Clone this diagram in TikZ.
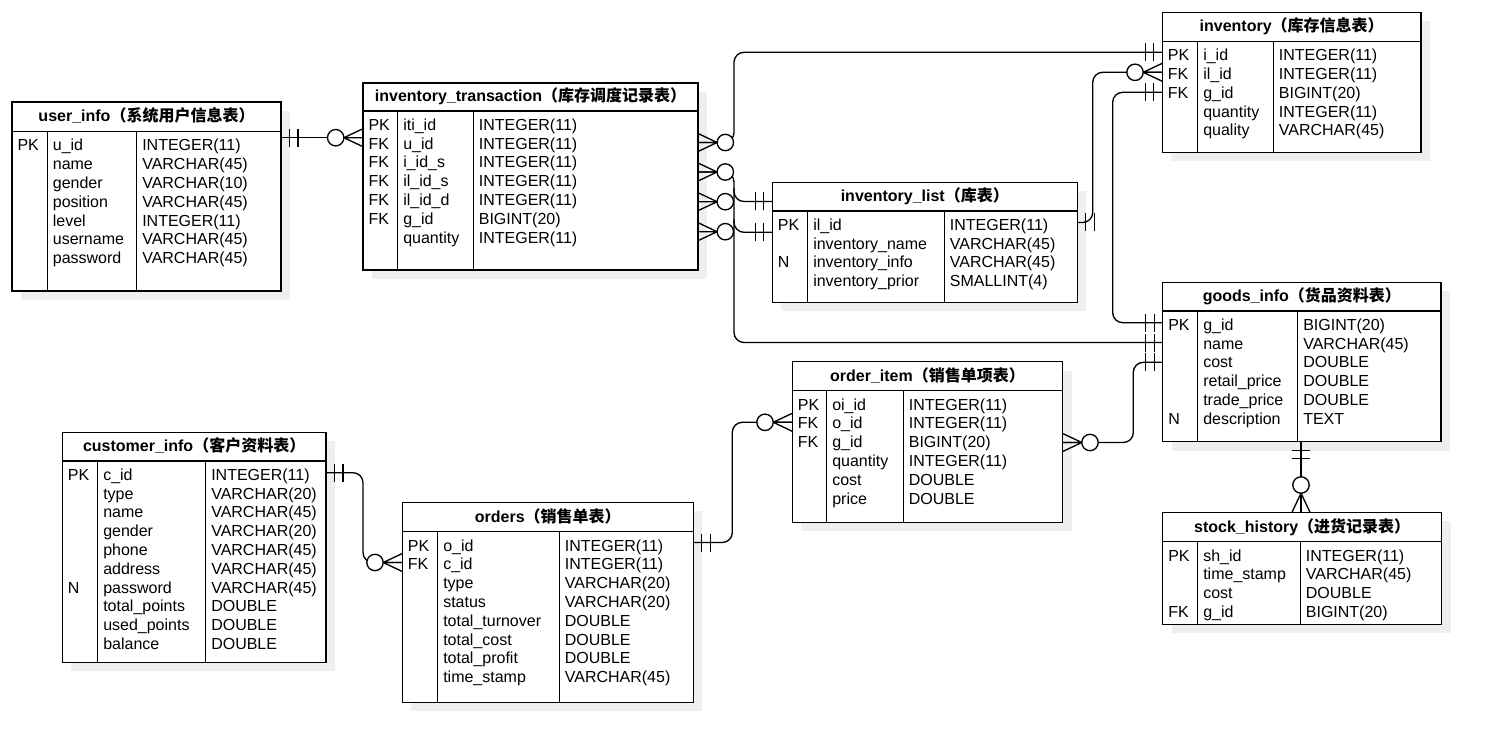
\documentclass[tikz,border=0pt]{standalone}
\usepackage{fontspec}
\setmainfont{Liberation Sans}
\newfontfamily\cjk{Noto Sans CJK SC}
\usetikzlibrary{fit,calc}
\definecolor{shadowc}{HTML}{EFEFEF}
\tikzset{
  tblbox/.style={draw, fill=white, line width=1pt, inner sep=0pt, outer sep=0pt},
  tblline/.style={line width=1pt},
  ttl/.style={font=\fontsize{12pt}{14.1pt}\selectfont\bfseries, inner sep=0pt, anchor=base},
  rowtxt/.style={font=\fontsize{12pt}{14.1pt}\selectfont, inner sep=0pt, anchor=north west, align=left},
  conn/.style={line width=1pt, rounded corners=7.5pt},
  mandone/.pic={\draw[line width=1pt] (8.5,-9) -- (8.5,9) (17,-9) -- (17,9);},
  zeromany/.pic={\draw[line width=1pt] (0,-9) -- (19.1,0) -- (0,9) (0,0) -- (19.1,0);
                 \draw[line width=1pt, fill=white] (27.3,0) circle [radius=8.2];},
}
% table: name, x1, y1, x2, y2, header line y, column 1 x, column 2 x, title
\newcommand\ertable[9]{%
  \fill[shadowc] ({#2+9},{#3+9}) rectangle ({#4+9},{#5+9});
  \node[tblbox, fit={(#2,#3) (#4,#5)}] (#1) {};
  \draw[tblline] (#2,#6) -- (#4,#6) (#7,#6) -- (#7,#5) (#8,#6) -- (#8,#5);
  \node[ttl] (#1-title) at ({(#2+#4)/2},{(#3+#6)/2+5}) {#9};
  \gdef\erhy{#6}\gdef\erxa{#2}\gdef\erxb{#7}\gdef\erxc{#8}\gdef\ername{#1}%
}
% rows of the last table: keys, field names, field types
\newcommand\errows[3]{%
  \node[rowtxt] (\ername-keys)  at ({\erxa+5.3},{\erhy+5.9}) {\strut #1};
  \node[rowtxt] (\ername-names) at ({\erxb+5.3},{\erhy+5.9}) {\strut #2};
  \node[rowtxt] (\ername-types) at ({\erxc+5.3},{\erhy+5.9}) {\strut #3};
}
\begin{document}
\begin{tikzpicture}[x=0.75pt,y=-0.75pt]
\fill[white] (0,0) rectangle (1492,752);
\useasboundingbox (0,0) rectangle (1492,752);

% ---------- tables ----------
\ertable{ui}{12}{102}{281}{291}{131.5}{47.3}{136.7}{user\_info{\cjk（系统用户信息表）}}
\errows{PK}
 {u\_id\\name\\gender\\position\\level\\username\\password}
 {INTEGER(11)\\VARCHAR(45)\\VARCHAR(10)\\VARCHAR(45)\\INTEGER(11)\\VARCHAR(45)\\VARCHAR(45)}

\ertable{it}{363}{83}{698}{270}{111}{397.7}{473.3}{inventory\_transaction{\cjk（库存调度记录表）}}
\errows{PK\\FK\\FK\\FK\\FK\\FK}
 {iti\_id\\u\_id\\i\_id\_s\\il\_id\_s\\il\_id\_d\\g\_id\\quantity}
 {INTEGER(11)\\INTEGER(11)\\INTEGER(11)\\INTEGER(11)\\INTEGER(11)\\BIGINT(20)\\INTEGER(11)}

\ertable{il}{772.3}{182.5}{1077.3}{302.3}{211}{807.7}{944.3}{inventory\_list{\cjk（库表）}}
\errows{PK\\~\\N}
 {il\_id\\inventory\_name\\inventory\_info\\inventory\_prior}
 {INTEGER(11)\\VARCHAR(45)\\VARCHAR(45)\\SMALLINT(4)}

\ertable{inv}{1162.3}{12.3}{1421}{152.3}{41.3}{1197.7}{1273.3}{inventory{\cjk（库存信息表）}}
\errows{PK\\FK\\FK}
 {i\_id\\il\_id\\g\_id\\quantity\\quality}
 {INTEGER(11)\\INTEGER(11)\\BIGINT(20)\\INTEGER(11)\\VARCHAR(45)}

\ertable{gi}{1162.7}{282.3}{1441}{441.7}{311}{1197.7}{1297.7}{goods\_info{\cjk（货品资料表）}}
\errows{PK\\~\\~\\~\\~\\N}
 {g\_id\\name\\cost\\retail\_price\\trade\_price\\description}
 {BIGINT(20)\\VARCHAR(45)\\DOUBLE\\DOUBLE\\DOUBLE\\TEXT}

\ertable{sh}{1162.7}{512.3}{1441.7}{624.3}{541.7}{1197.7}{1300.3}{stock\_history{\cjk（进货记录表）}}
\errows{PK\\~\\~\\FK}
 {sh\_id\\time\_stamp\\cost\\g\_id}
 {INTEGER(11)\\VARCHAR(45)\\DOUBLE\\BIGINT(20)}

\ertable{ci}{62.3}{432.3}{326}{662.3}{461}{97.7}{205.7}{customer\_info{\cjk（客户资料表）}}
\errows{PK\\~\\~\\~\\~\\~\\N}
 {c\_id\\type\\name\\gender\\phone\\address\\password\\total\_points\\used\_points\\balance}
 {INTEGER(11)\\VARCHAR(20)\\VARCHAR(45)\\VARCHAR(20)\\VARCHAR(45)\\VARCHAR(45)\\VARCHAR(45)\\DOUBLE\\DOUBLE\\DOUBLE}

\ertable{od}{402.3}{502.3}{693.3}{702.3}{531.7}{437.7}{559.3}{orders{\cjk（销售单表）}}
\errows{PK\\FK}
 {o\_id\\c\_id\\type\\status\\total\_turnover\\total\_cost\\total\_profit\\time\_stamp}
 {INTEGER(11)\\INTEGER(11)\\VARCHAR(20)\\VARCHAR(20)\\DOUBLE\\DOUBLE\\DOUBLE\\VARCHAR(45)}

\ertable{oi}{792.3}{361.7}{1062.7}{522.3}{390.7}{826.7}{903.3}{order\_item{\cjk（销售单项表）}}
\errows{PK\\FK\\FK}
 {oi\_id\\o\_id\\g\_id\\quantity\\cost\\price}
 {INTEGER(11)\\INTEGER(11)\\BIGINT(20)\\INTEGER(11)\\DOUBLE\\DOUBLE}

% ---------- end points of the relations ----------
\coordinate (e1a) at ($(ui.north east)+(0,35.7)$);
\coordinate (e1b) at ($(it.north west)+(0,54.7)$);
\coordinate (e2a) at ($(it.north east)+(0,59.5)$);
\coordinate (e2b) at ($(inv.north west)+(0,40)$);
\coordinate (e3a) at ($(it.north east)+(0,89)$);
\coordinate (e3b) at ($(gi.north west)+(0,60.2)$);
\coordinate (e4a) at ($(it.north east)+(0,118.7)$);
\coordinate (e4j) at ($(it.north east)+(36,105)$);
\coordinate (e4b) at ($(il.north west)+(0,19)$);
\coordinate (e5a) at ($(it.north east)+(0,148.7)$);
\coordinate (e5j) at ($(it.north east)+(36,136)$);
\coordinate (e5b) at ($(il.north west)+(0,49.8)$);
\coordinate (e6a) at ($(il.north east)+(0,40)$);
\coordinate (e6b) at ($(inv.north west)+(0,60)$);
\coordinate (e7a) at ($(inv.north west)+(0,80)$);
\coordinate (e7b) at ($(gi.north west)+(0,40.4)$);
\coordinate (e8a) at ($(oi.north east)+(0,80.8)$);
\coordinate (e8b) at ($(gi.north west)+(0,80)$);
\coordinate (e9a) at ($(gi.south west)+(138.3,0)$);
\coordinate (e9b) at ($(sh.north west)+(138.3,0)$);
\coordinate (e10a) at ($(ci.north east)+(0,40.4)$);
\coordinate (e10b) at ($(od.north west)+(0,60.2)$);
\coordinate (e11a) at ($(od.north east)+(0,40.2)$);
\coordinate (e11b) at ($(oi.north west)+(0,60.6)$);

% ---------- relation lines ----------
\draw[conn] (e1a) -- (e1b);
\draw[conn] (e2a) -- ++(36,0) |- (e2b);
\draw[conn] (e3a) -- ++(36,0) |- (e3b);
\draw[conn] (e4j) |- (e4b);
\draw[conn] (e5j) |- (e5b);
\draw[conn] (e6a) -- ++(15.4,0) |- (e6b);
\draw[conn] (e7a) -- ++(-49.6,0) |- (e7b);
\draw[conn] (e8a) -- ++(70.6,0) |- (e8b);
\draw[conn] (e9a) -- (e9b);
\draw[conn] (e10a) -- ++(37,0) |- (e10b);
\draw[conn] (e11a) -- ++(39,0) |- (e11b);

% ---------- cardinality marks ----------
\pic at (e1a) {mandone};
\pic[rotate=180] at (e1b) {zeromany};
\pic at (e2a) {zeromany};
\pic[rotate=180] at (e2b) {mandone};
\pic at (e3a) {zeromany};
\pic[rotate=180] at (e3b) {mandone};
\pic at (e4a) {zeromany};
\pic[rotate=180] at (e4b) {mandone};
\pic at (e5a) {zeromany};
\pic[rotate=180] at (e5b) {mandone};
\pic at (e6a) {mandone};
\pic[rotate=180] at (e6b) {zeromany};
\pic[rotate=180] at (e7a) {mandone};
\pic[rotate=180] at (e7b) {mandone};
\pic at (e8a) {zeromany};
\pic[rotate=180] at (e8b) {mandone};
\pic[rotate=-90] at (e9a) {mandone};
\pic[rotate=90] at (e9b) {zeromany};
\pic at (e10a) {mandone};
\pic[rotate=180] at (e10b) {zeromany};
\pic at (e11a) {mandone};
\pic[rotate=180] at (e11b) {zeromany};
\end{tikzpicture}
\end{document}
